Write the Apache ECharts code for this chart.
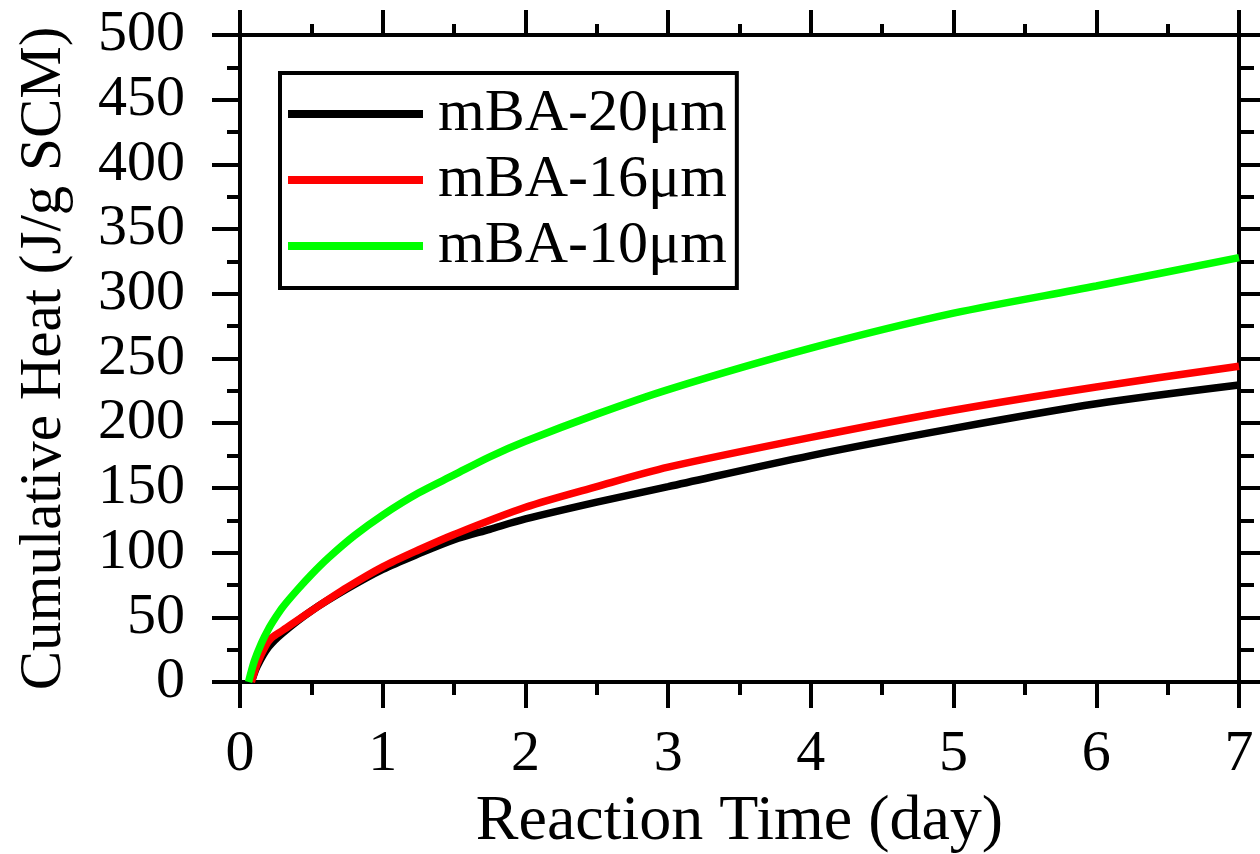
<!DOCTYPE html>
<html><head><meta charset="utf-8">
<script src="https://cdn.jsdelivr.net/npm/echarts@6/dist/echarts.min.js"></script>
<style>html,body{margin:0;padding:0;background:#fff}#c{width:1260px;height:854px}</style>
</head><body><div id="c"></div>
<script>
const seriesNames = ['mBA-20μm', 'mBA-16μm', 'mBA-10μm'];
const seriesColors = ['#000000', '#ff0000', '#00ff00'];
const black20 = [[0.08,0],[0.12,12],[0.2,27],[0.3,38],[0.5,55],[0.75,72],[1,87],[1.25,99],[1.5,110],[1.75,118],[2,126],[2.5,139],[3,151],[4,175],[5,196],[6,215],[7,229.5]];
const red16 = [[0.08,0],[0.12,14],[0.18,28],[0.22,34],[0.3,40],[0.5,55],[0.75,73],[1,89],[1.25,102],[1.5,114],[2,135],[2.5,151],[3,166],[4,189],[5,210],[6,228],[7,244]];
const green10 = [[0.06,0],[0.1,16],[0.15,30],[0.2,41],[0.25,50],[0.3,58],[0.4,71],[0.5,83],[0.62,96],[0.8,113],[1,129],[1.25,146],[1.5,160],[1.75,174],[2,186],[2.5,207],[3,226],[4,258],[5,285],[6,306],[7,328]];
const xTitle = 'Reaction Time (day)';
const yTitle = 'Cumulative Heat (J/g SCM)';

const font = 'Liberation Serif';
const chart = echarts.init(document.getElementById('c'));
function ax(extra, major, minor){
  return Object.assign({
    axisLine: {show:true, onZero:false, lineStyle:{color:'#000', width:4}},
    axisTick: {show:true, inside:false, length:major, lineStyle:{color:'#000', width:4}},
    minorTick: {show:true, splitNumber:2, length:minor, lineStyle:{color:'#000', width:4}},
    splitLine: {show:false},
    minorSplitLine: {show:false}
  }, extra);
}
chart.setOption({
  animation:false,
  backgroundColor:'#fff',
  grid:{left:240, right:21, top:35, bottom:172, containLabel:false, outerBoundsMode:'none'},
  legend:{
    orient:'vertical', left:280, top:73,
    data: seriesNames,
    icon:'rect', itemWidth:135, itemHeight:8, itemGap:6,
    borderColor:'#000', borderWidth:4, borderRadius:0,
    padding:[11, 10, 12, 8],
    textStyle:{fontFamily:font, fontSize:60, color:'#000', lineHeight:59, padding:[0,0,0,10]}
  },
  xAxis:[
    ax({type:'value', position:'bottom', min:0, max:7, interval:1,
      axisLabel:{fontFamily:font, fontSize:58, color:'#000', margin:44},
      name:xTitle, nameLocation:'middle', nameGap:140,
      nameTextStyle:{fontFamily:font, fontSize:64, color:'#000', verticalAlign:'middle'}}, 26, 13),
    ax({type:'value', position:'top', min:0, max:7, interval:1, axisLabel:{show:false}}, 25, 11)
  ],
  yAxis:[
    ax({type:'value', position:'left', min:0, max:500, interval:50,
      axisLabel:{fontFamily:font, fontSize:58, color:'#000', margin:55},
      name:yTitle, nameLocation:'middle', nameGap:196,
      nameTextStyle:{fontFamily:font, fontSize:59, color:'#000', verticalAlign:'middle'}}, 28, 13),
    ax({type:'value', position:'right', min:0, max:500, interval:50, axisLabel:{show:false}}, 22, 15)
  ],
  series:[black20, red16, green10].map((d,i)=>({
    name:seriesNames[i], type:'line', data:d, smooth:0.3, showSymbol:false, symbol:'none',
    lineStyle:{color:seriesColors[i], width:7.5}, itemStyle:{color:seriesColors[i]}, z:2+i
  }))
});
</script></body></html>
